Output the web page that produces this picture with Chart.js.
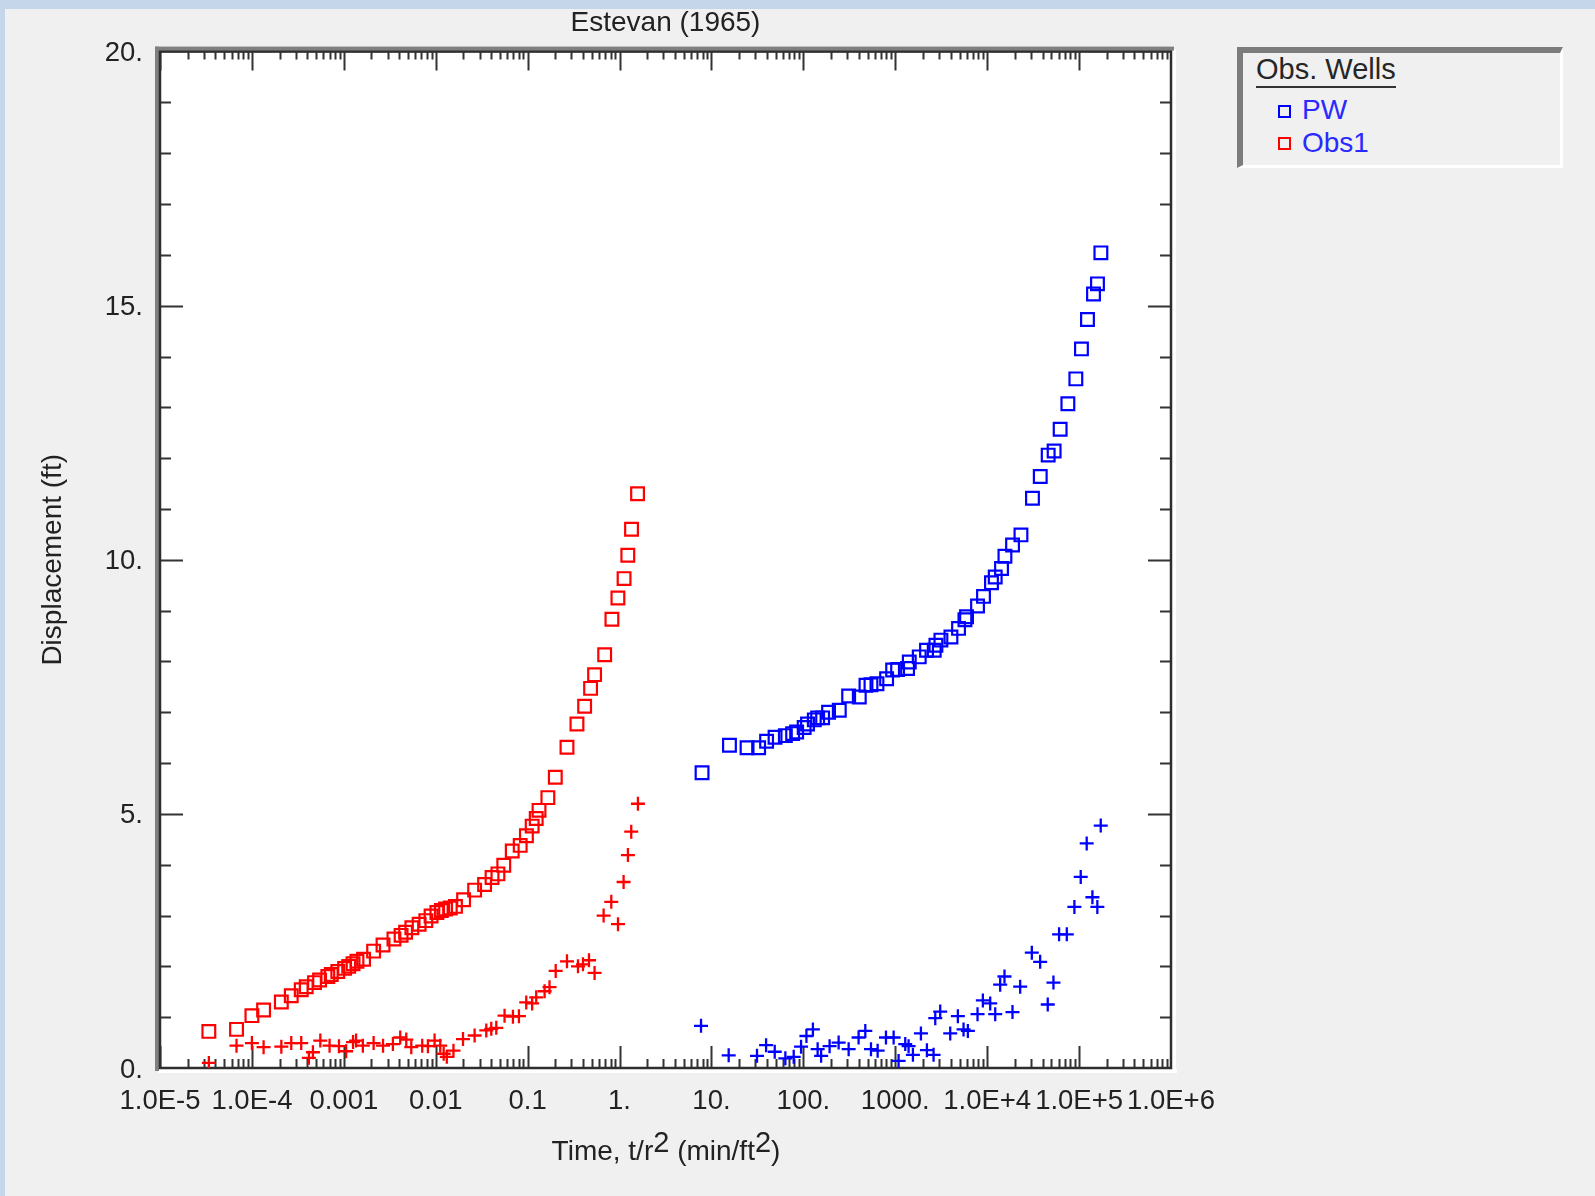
<!DOCTYPE html>
<html>
<head>
<meta charset="utf-8">
<script src="https://cdn.jsdelivr.net/npm/chart.js@4.4.1/dist/chart.umd.min.js"></script>
<style>
  body { margin: 0; background: #f0f0f0; font-family: 'Liberation Sans', Arial, sans-serif; }
  #wrap { position: relative; width: 1595px; height: 1196px; overflow: hidden; }
  .strip { position: absolute; background: #c5d5ea; }
  #chartBox { position: absolute; left: 0; top: 0; width: 1595px; height: 1196px; }
  #xTitle {
    position: absolute; left: 466px; top: 1136px; width: 400px; text-align: center;
    font-size: 28px; line-height: 28px; color: #222; white-space: nowrap;
  }
  #xTitle span { position: relative; top: -8px; font-size: 29px; }
  #legend {
    position: absolute; left: 1237px; top: 47px; width: 317px; height: 112px;
    border-left: 6px solid #7c7c7c; border-top: 6px solid #7c7c7c;
    border-right: 3px solid #fff; border-bottom: 3px solid #fff;
    background: #f0f0f0;
  }
  #legend div { position: absolute; font-size: 28px; line-height: 28px; white-space: nowrap; }
  .lgTitle { left: 13px; top: 2px; color: #262626; border-bottom: 2px solid #333; height: 31px; font-size: 29px !important; }
  .lgItem { left: 59px; color: #2a2aff; }
  .mark { position: absolute; width: 9px; height: 9px; border: 2px solid; }
</style>
</head>
<body>
<div id="wrap">
  <div class="strip" style="left:0;top:0;width:1595px;height:9px"></div>
  <div class="strip" style="left:0;top:0;width:5px;height:1196px"></div>
  <div id="chartBox"><canvas id="chart"></canvas></div>
  <div id="xTitle">Time, t/r<span>2</span> (min/ft<span>2</span>)</div>
  <div id="legend">
    <div class="lgTitle">Obs. Wells</div>
    <span class="mark" style="left:35px;top:52px;border-color:#0000ff"></span>
    <div class="lgItem" style="top:43px">PW</div>
    <span class="mark" style="left:35px;top:84px;border-color:#ff0000"></span>
    <div class="lgItem" style="top:76px">Obs1</div>
  </div>
</div>
<script>
// time values t/r^2 (min/ft^2) and displacement (ft)
const obs1SqT = [3.4e-5, 6.8e-5, 1.0e-4, 1.34e-4, 2.09e-4, 2.68e-4, 3.44e-4, 3.9e-4, 4.8e-4, 5.45e-4,
  6.7e-4, 7.3e-4, 8.6e-4, 1.02e-3, 1.13e-3, 1.26e-3, 1.39e-3, 1.64e-3, 2.11e-3, 2.67e-3,
  3.51e-3, 4.2e-3, 4.7e-3, 5.5e-3, 6.6e-3, 7.8e-3, 8.9e-3, 1.03e-2, 1.15e-2, 1.28e-2,
  1.44e-2, 1.64e-2, 2.01e-2, 2.65e-2, 3.4e-2, 4.1e-2, 4.75e-2, 5.5e-2, 6.8e-2, 8.3e-2,
  9.7e-2, 0.112, 0.124, 0.133, 0.166, 0.2, 0.268, 0.344, 0.417, 0.484,
  0.535, 0.689, 0.826, 0.96, 1.12, 1.23, 1.35, 1.57];
const obs1SqD = [0.72, 0.76, 1.03, 1.14, 1.30, 1.42, 1.54, 1.60, 1.68, 1.73,
  1.80, 1.84, 1.90, 1.96, 2.00, 2.05, 2.10, 2.14, 2.30, 2.42,
  2.54, 2.61, 2.67, 2.76, 2.83, 2.90, 2.99, 3.06, 3.10, 3.13,
  3.15, 3.18, 3.31, 3.50, 3.61, 3.75, 3.82, 3.99, 4.27, 4.38,
  4.57, 4.76, 4.91, 5.07, 5.32, 5.72, 6.31, 6.77, 7.12, 7.47,
  7.74, 8.13, 8.83, 9.25, 9.63, 10.09, 10.60, 11.30];

const obs1CrT = [3.4e-5, 6.8e-5, 1.0e-4, 1.34e-4, 2.09e-4, 2.68e-4, 3.44e-4, 4.17e-4, 4.61e-4, 5.55e-4,
  7.0e-4, 8.85e-4, 1.06e-3, 1.26e-3, 1.36e-3, 1.61e-3, 2.11e-3, 2.67e-3, 3.42e-3, 4.11e-3,
  4.78e-3, 5.42e-3, 7.13e-3, 8.22e-3, 9.72e-3, 1.12e-2, 1.22e-2, 1.32e-2, 1.56e-2, 1.98e-2,
  2.65e-2, 3.55e-2, 4.02e-2, 4.56e-2, 5.61e-2, 6.92e-2, 8.04e-2, 9.66e-2, 0.112, 0.124,
  0.153, 0.173, 0.202, 0.268, 0.353, 0.40, 0.465, 0.535, 0.671, 0.813,
  0.962, 1.107, 1.233, 1.34, 1.585];
const obs1CrD = [0.10, 0.44, 0.49, 0.41, 0.42, 0.49, 0.49, 0.20, 0.31, 0.54,
  0.44, 0.43, 0.33, 0.51, 0.54, 0.44, 0.49, 0.44, 0.47, 0.60,
  0.56, 0.41, 0.44, 0.43, 0.54, 0.44, 0.28, 0.22, 0.34, 0.57,
  0.64, 0.74, 0.77, 0.79, 1.03, 1.01, 1.02, 1.29, 1.27, 1.39,
  1.51, 1.59, 1.91, 2.10, 2.00, 2.04, 2.12, 1.87, 3.00, 3.27,
  2.83, 3.66, 4.19, 4.65, 5.20];

const pwSqT = [7.9, 15.7, 24.4, 32.6, 39.8, 49.2, 63.7, 76.4, 84.5, 102,
  111, 131.5, 143, 162, 188, 246, 311, 406, 480, 544,
  632, 805, 936, 1060, 1361, 1420, 1823, 2188, 2654, 2768,
  3138, 4033, 4879, 5728, 5962, 7852, 9120, 11140, 12230, 14320,
  15600, 18880, 23300, 31100, 37800, 46100, 53500, 62200, 75500, 92200,
  106100, 123400, 143500, 158500, 172600];
const pwSqD = [5.81, 6.35, 6.30, 6.30, 6.43, 6.51, 6.54, 6.58, 6.61, 6.70,
  6.77, 6.85, 6.89, 6.89, 7.00, 7.04, 7.32, 7.30, 7.53, 7.54,
  7.56, 7.66, 7.83, 7.84, 7.86, 7.99, 8.09, 8.22, 8.22, 8.32,
  8.42, 8.48, 8.65, 8.82, 8.88, 9.09, 9.28, 9.55, 9.66, 9.83,
  10.07, 10.29, 10.49, 11.21, 11.64, 12.06, 12.14, 12.57, 13.07, 13.56,
  14.15, 14.73, 15.23, 15.43, 16.04];

const pwCrT = [7.7, 15.4, 31.3, 39.3, 48.8, 63.7, 78.5, 94.4, 108, 127,
  143, 156, 193, 242, 311, 399, 472, 544, 643, 792,
  960, 1087, 1284, 1396, 1556, 1901, 2209, 2610, 2723, 3083,
  3962, 4799, 5532, 6166, 7852, 8974, 10790, 12230, 13850, 15430,
  18850, 22860, 30600, 37700, 45600, 52600, 60600, 73500, 88900, 104200,
  121000, 139600, 158000, 172000];
const pwCrD = [0.83, 0.25, 0.24, 0.45, 0.32, 0.19, 0.22, 0.42, 0.63, 0.76,
  0.37, 0.24, 0.43, 0.50, 0.37, 0.60, 0.73, 0.37, 0.34, 0.60,
  0.60, 0.14, 0.47, 0.43, 0.26, 0.68, 0.35, 0.26, 0.98, 1.11,
  0.68, 1.02, 0.76, 0.73, 1.06, 1.33, 1.27, 1.06, 1.64, 1.80,
  1.10, 1.60, 2.27, 2.09, 1.25, 1.68, 2.63, 2.63, 3.17, 3.76,
  4.42, 3.36, 3.17, 4.77];

const xTickVals = [1e-5, 1e-4, 1e-3, 1e-2, 1e-1, 1, 10, 100, 1000, 1e4, 1e5, 1e6];
const xTickLabels = ['1.0E-5', '1.0E-4', '0.001', '0.01', '0.1', '1.', '10.', '100.', '1000.', '1.0E+4', '1.0E+5', '1.0E+6'];
const yTickVals = [0, 5, 10, 15, 20];
const yTickLabels = ['0.', '5.', '10.', '15.', '20.'];

const FONT = "'Liberation Sans', Arial, sans-serif";
const toPts = (xs, ys) => xs.map((x, i) => ({x: x, y: ys[i]}));

// white plot area, sunken frame and inward tick marks
const frameTicks = {
  id: 'frameTicks',
  beforeDraw(chart) {
    const {ctx, chartArea: a} = chart;
    ctx.save();
    ctx.fillStyle = '#ffffff';
    ctx.fillRect(a.left, a.top, a.right - a.left, a.bottom - a.top);
    ctx.restore();
  },
  beforeDatasetsDraw(chart) {
    const {ctx, chartArea: a, scales} = chart;
    const x = scales.x, y = scales.y;
    ctx.save();
    ctx.strokeStyle = '#333333';
    ctx.lineWidth = 2;
    ctx.beginPath();
    for (let e = -5; e < 6; e++) {
      for (let m = 1; m < 10; m++) {
        const px = Math.round(x.getPixelForValue(m * Math.pow(10, e))) + 0.5;
        const major = m === 1;
        ctx.moveTo(px, a.bottom); ctx.lineTo(px, a.bottom - (major ? 22 : 9));
        ctx.moveTo(px, a.top); ctx.lineTo(px, a.top + (major ? 19 : 8));
      }
    }
    for (let v = 1; v < 20; v++) {
      const py = Math.round(y.getPixelForValue(v)) + 0.5;
      const len = v % 5 === 0 ? 23 : 11;
      ctx.moveTo(a.left, py); ctx.lineTo(a.left + len, py);
      ctx.moveTo(a.right, py); ctx.lineTo(a.right - len, py);
    }
    ctx.stroke();
    // frame
    ctx.fillStyle = '#ffffff';
    ctx.fillRect(a.left - 2, a.bottom + 1, a.right - a.left + 8, 4);
    ctx.fillRect(a.right + 1, a.top - 2, 4, a.bottom - a.top + 6);
    ctx.fillStyle = '#808080';
    ctx.fillRect(a.left - 5, a.top - 5, a.right - a.left + 8, 4);
    ctx.fillRect(a.left - 5, a.top - 5, 4, a.bottom - a.top + 8);
    ctx.strokeStyle = '#2e2e2e';
    ctx.lineWidth = 2.5;
    ctx.strokeRect(a.left, a.top, a.right - a.left, a.bottom - a.top);
    ctx.restore();
  }
};

const ctx = document.getElementById('chart').getContext('2d');
new Chart(ctx, {
  type: 'scatter',
  data: {
    datasets: [
      {label: 'PW', data: toPts(pwSqT, pwSqD), pointStyle: 'rect', pointRadius: 9,
        borderColor: '#0000ff', backgroundColor: 'rgba(0,0,0,0)', borderWidth: 2.2},
      {label: 'PW +', data: toPts(pwCrT, pwCrD), pointStyle: 'cross', pointRadius: 7,
        borderColor: '#0000ff', backgroundColor: '#0000ff', borderWidth: 2.3},
      {label: 'Obs1', data: toPts(obs1SqT, obs1SqD), pointStyle: 'rect', pointRadius: 9,
        borderColor: '#ff0000', backgroundColor: 'rgba(0,0,0,0)', borderWidth: 2.2},
      {label: 'Obs1 +', data: toPts(obs1CrT, obs1CrD), pointStyle: 'cross', pointRadius: 7,
        borderColor: '#ff0000', backgroundColor: '#ff0000', borderWidth: 2.3}
    ]
  },
  options: {
    responsive: true,
    maintainAspectRatio: false,
    animation: false,
    layout: {padding: {left: 0, top: 0, right: 424, bottom: 0}},
    plugins: {
      legend: {display: false},
      tooltip: {enabled: false},
      title: {
        display: true, text: 'Estevan (1965)', fullSize: false,
        color: '#222222', font: {family: FONT, size: 28, weight: 'normal'},
        padding: {top: 6, bottom: 12}
      }
    },
    scales: {
      x: {
        type: 'logarithmic', position: 'bottom', min: 1e-5, max: 1e6,
        afterFit: s => { s.height = 128; },
        afterBuildTicks: s => { s.ticks = xTickVals.map(v => ({value: v})); },
        grid: {display: false, drawTicks: false},
        border: {display: false},
        ticks: {
          autoSkip: false, maxRotation: 0, minRotation: 0, padding: 17,
          color: '#222222', font: {family: FONT, size: 27.5},
          callback: (v, i) => xTickLabels[i]
        },
        title: {display: false}
      },
      y: {
        type: 'linear', min: 0, max: 20,
        afterFit: s => { s.width = 160; },
        afterBuildTicks: s => { s.ticks = yTickVals.map(v => ({value: v})); },
        grid: {display: false, drawTicks: false},
        border: {display: false},
        ticks: {
          padding: 17, labelOffset: 2, color: '#222222', font: {family: FONT, size: 27.5},
          callback: (v, i) => yTickLabels[i]
        },
        title: {
          display: true, text: 'Displacement (ft)', color: '#222222',
          font: {family: FONT, size: 28}, padding: {top: 36, bottom: 0}
        }
      }
    }
  },
  plugins: [frameTicks]
});
</script>
</body>
</html>
